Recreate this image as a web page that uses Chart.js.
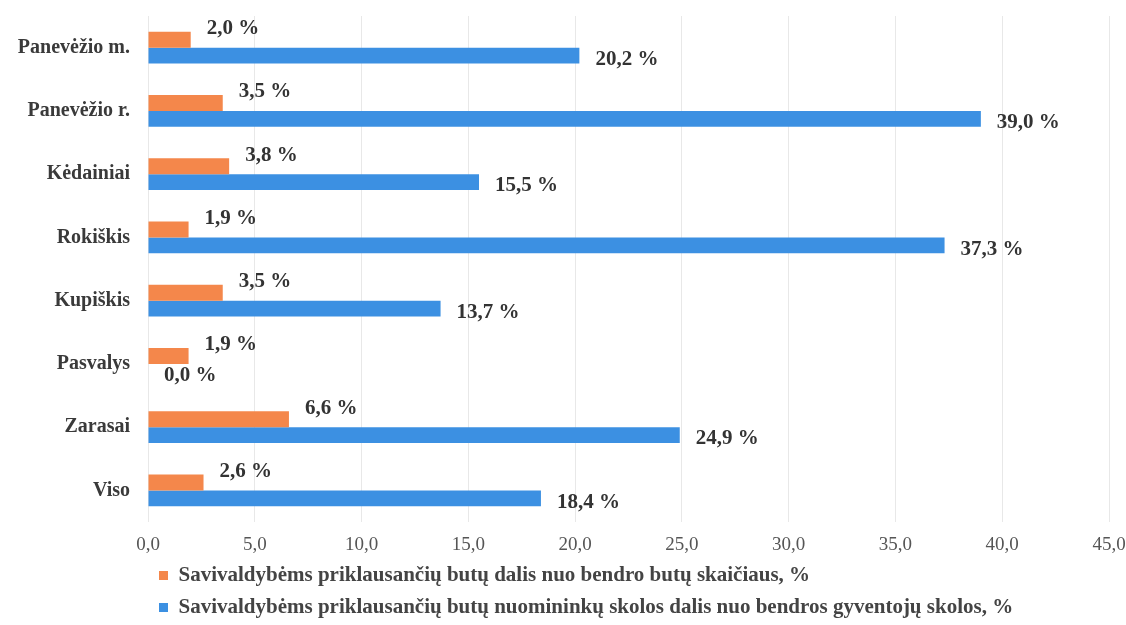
<!DOCTYPE html>
<html>
<head>
<meta charset="utf-8">
<script src="https://cdn.jsdelivr.net/npm/chart.js@4.4.1/dist/chart.umd.min.js"></script>
<style>
  html, body { margin: 0; padding: 0; background: #ffffff; }
  #wrap { width: 1126px; height: 625px; position: relative; }
</style>
</head>
<body>
<div id="wrap"><canvas id="c"></canvas></div>
<script>
const categories = ['Panevėžio m.', 'Panevėžio r.', 'Kėdainiai', 'Rokiškis', 'Kupiškis', 'Pasvalys', 'Zarasai', 'Viso'];
const shareOfFlats = [2.0, 3.5, 3.8, 1.9, 3.5, 1.9, 6.6, 2.6];
const shareOfDebt = [20.2, 39.0, 15.5, 37.3, 13.7, 0.0, 24.9, 18.4];
const seriesNames = [
  'Savivaldybėms priklausančių butų dalis nuo bendro butų skaičiaus, %',
  'Savivaldybėms priklausančių butų nuomininkų skolos dalis nuo bendros gyventojų skolos, %'
];
const xMin = 0, xMax = 45, xStep = 5;

const fmt = v => v.toFixed(1).replace('.', ',');
const SERIF = '"Liberation Serif", "Times New Roman", serif';

const valueLabels = {
  id: 'valueLabels',
  afterDatasetsDraw(chart) {
    const ctx = chart.ctx;
    ctx.save();
    ctx.font = 'bold 21px ' + SERIF;
    ctx.fillStyle = '#333333';
    ctx.textAlign = 'left';
    ctx.textBaseline = 'middle';
    chart.data.datasets.forEach((ds, di) => {
      const meta = chart.getDatasetMeta(di);
      meta.data.forEach((bar, i) => {
        const dy = di === 0 ? -11 : 4;
        ctx.fillText(fmt(ds.data[i]) + ' %', bar.x + 16, bar.y + dy);
      });
    });
    ctx.restore();
  }
};

new Chart(document.getElementById('c'), {
  type: 'bar',
  data: {
    labels: categories,
    datasets: [
      { label: seriesNames[0], data: shareOfFlats, backgroundColor: '#F4874B', categoryPercentage: 0.5, barPercentage: 1.0 },
      { label: seriesNames[1], data: shareOfDebt, backgroundColor: '#3C90E2', categoryPercentage: 0.5, barPercentage: 1.0 }
    ]
  },
  options: {
    indexAxis: 'y',
    responsive: true,
    maintainAspectRatio: false,
    animation: false,
    layout: { padding: { top: 16, right: 0, left: 0, bottom: -3 } },
    scales: {
      x: {
        min: xMin, max: xMax,
        ticks: {
          stepSize: xStep,
          padding: 12,
          color: '#555555',
          font: { family: SERIF, size: 19 },
          callback: v => fmt(v)
        },
        grid: { color: '#e8e8e8', drawTicks: false },
        border: { display: false },
        afterFit(scale) { scale.height = 32; scale.paddingRight = 17; scale.paddingLeft = 0; }
      },
      y: {
        ticks: {
          padding: 10,
          color: '#3a3a3a',
          font: { family: SERIF, size: 20, weight: 'bold' }
        },
        grid: { display: false },
        border: { display: false },
        afterFit(scale) { scale.width = 148; scale.paddingTop = 0; scale.paddingBottom = 0; }
      }
    },
    plugins: {
      legend: {
        position: 'bottom',
        align: 'start',
        fullSize: false,
        labels: {
          boxWidth: 9,
          boxHeight: 9,
          padding: 11,
          color: '#444444',
          font: { family: SERIF, size: 21, weight: 'bold' }
        }
      },
      tooltip: { enabled: false }
    }
  },
  plugins: [valueLabels]
});
</script>
</body>
</html>
